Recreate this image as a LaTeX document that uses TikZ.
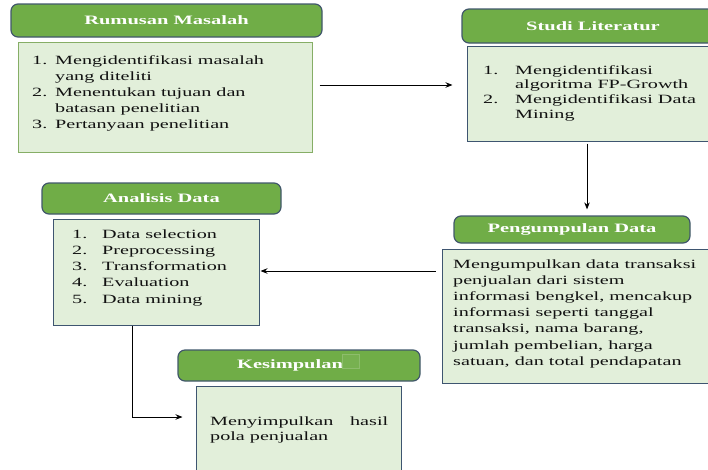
\documentclass[tikz,border=0pt]{standalone}
\usepackage{fontspec}
\setmainfont{Liberation Serif}[FakeStretch=1.6]
\usetikzlibrary{arrows.meta}
\definecolor{hdrfill}{HTML}{70AD47}
\definecolor{hdrline}{HTML}{41576B}
\definecolor{bodyfill}{HTML}{E2EFDA}
\definecolor{bodyline}{HTML}{3E5570}
\definecolor{bodylinegreen}{HTML}{86AE66}
\definecolor{txt}{HTML}{111111}
\begin{document}
\begin{tikzpicture}[x=1pt,y=-1pt,
  hdr/.style={draw=hdrline, line width=1.2pt, fill=hdrfill, rounded corners=7pt,
    inner sep=0pt, text=white, font=\fontsize{12.8}{15}\selectfont\bfseries},
  bodybox/.style={draw=bodyline, line width=1pt, fill=bodyfill, inner sep=0pt},
  txtnode/.style={anchor=base west, inner sep=0pt, text=txt},
  arr/.style={draw=black, line width=0.9pt, -{Stealth[length=7pt,width=5.5pt]}}]
\useasboundingbox (0,0) rectangle (708,469);
\begin{scope}
\clip (0,0) rectangle (708,469);
% Rumusan Masalah
\node[hdr, minimum width=311pt, minimum height=33pt] (rh) at (166.5,20.5) {Rumusan Masalah};
\node[bodybox, draw=bodylinegreen, minimum width=294pt, minimum height=110pt] (rb) at (165,97) {};
\node[txtnode] (rt) at (32,64) {\fontsize{12.6}{16}\selectfont
  \begin{tabular}[t]{@{}p{23pt}@{}l@{}}
  1. & Mengidentifikasi masalah\\
     & yang diteliti\\
  2. & Menentukan tujuan dan\\
     & batasan penelitian\\
  3. & Pertanyaan penelitian
  \end{tabular}};
% Studi Literatur
\node[hdr, minimum width=262pt, minimum height=34pt] (sh) at (593,26) {Studi Literatur};
\node[bodybox, minimum width=248pt, minimum height=95pt] (sb) at (591,93.5) {};
\node[txtnode] (st) at (483,74) {\fontsize{12.6}{14.7}\selectfont
  \begin{tabular}[t]{@{}p{32pt}@{}l@{}}
  1. & Mengidentifikasi\\
     & algoritma FP-Growth\\
  2. & Mengidentifikasi Data\\
     & Mining
  \end{tabular}};
% Pengumpulan Data
\node[hdr, minimum width=236pt, minimum height=27pt] (ph) at (572,229.5) {Pengumpulan Data};
\node[bodybox, minimum width=270pt, minimum height=134pt] (pb) at (577,316) {};
\node[txtnode] (pt) at (453,268) {\fontsize{12.6}{16.2}\selectfont
  \begin{tabular}[t]{@{}l@{}}
  Mengumpulkan data transaksi\\
  penjualan dari sistem\\
  informasi bengkel, mencakup\\
  informasi seperti tanggal\\
  transaksi, nama barang,\\
  jumlah pembelian, harga\\
  satuan, dan total pendapatan
  \end{tabular}};
% Analisis Data
\node[hdr, minimum width=239pt, minimum height=31pt] (ah) at (161.5,198.5) {Analisis Data};
\node[bodybox, minimum width=206pt, minimum height=106pt] (ab) at (156,272) {};
\node[txtnode] (at) at (72,238) {\fontsize{12.6}{16.3}\selectfont
  \begin{tabular}[t]{@{}p{30pt}@{}l@{}}
  1. & Data selection\\
  2. & Preprocessing\\
  3. & Transformation\\
  4. & Evaluation\\
  5. & Data mining
  \end{tabular}};
% Kesimpulan
\node[hdr, minimum width=242pt, minimum height=31pt] (kh) at (299,365.5) {Kesimpulan\hspace*{18pt}};
\node[draw=hdrfill!80!white, line width=0.6pt, fill=hdrfill!95!white, minimum width=17pt, minimum height=14pt, inner sep=0pt] (ksq) at (350.5,361.5) {};
\node[bodybox, minimum width=205pt, minimum height=94pt] (kb) at (298.5,433) {};
\node[txtnode] (kt) at (210,425) {\fontsize{12.6}{15}\selectfont
  \begin{tabular}[t]{@{}p{178pt}@{}}
  Menyimpulkan\hfill hasil\\
  pola penjualan
  \end{tabular}};
\end{scope}
% connectors
\draw[arr, shorten <=7pt, shorten >=14pt] (rb.east |- 0,85) -- (sb.west |- 0,85);
\draw[arr, shorten <=2pt, shorten >=6pt] (sb.south -| 587,0) -- (ph.north -| 587,0);
\draw[arr, shorten <=6pt, shorten >=1pt] (pb.west |- 0,271) -- (ab.east |- 0,271);
\coordinate (kbend) at (132,417);
\draw[arr, shorten >=13pt] (ab.south -| kbend) -- (kbend) -- (kb.west |- kbend);
\end{tikzpicture}
\end{document}
